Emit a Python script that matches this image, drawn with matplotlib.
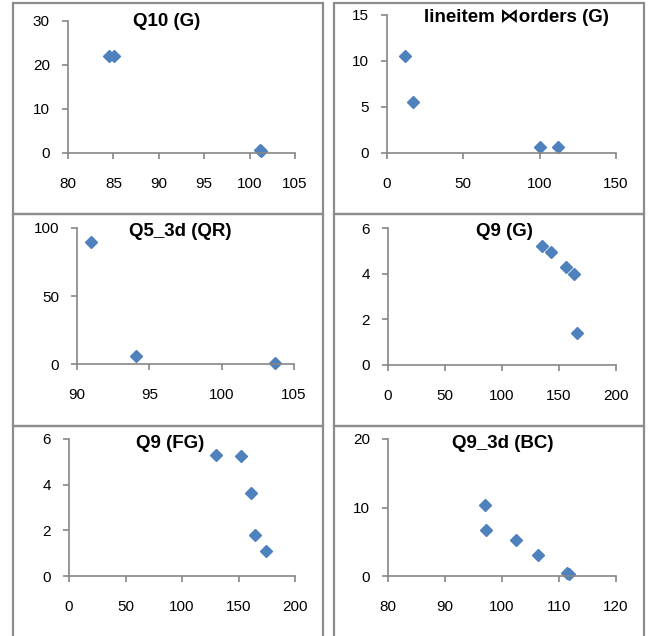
import matplotlib
matplotlib.use('Agg')
import matplotlib.pyplot as plt
from matplotlib.patches import Rectangle

plt.rcParams['font.family'] = ['Liberation Sans', 'DejaVu Sans']

# %% Data

titles = ['Q10 (G)', 'lineitem \u22c8orders (G)', 'Q5_3d (QR)', 'Q9 (G)', 'Q9 (FG)', 'Q9_3d (BC)']

q10_x = [84.5, 85.1, 101.1, 101.3]
q10_y = [22.0, 22.0, 0.6, 0.5]

lo_x = [12, 17, 100, 112]
lo_y = [10.5, 5.5, 0.7, 0.6]

q5_x = [91.0, 94.1, 103.7]
q5_y = [90.0, 6.0, 0.5]

q9g_x = [135, 143, 156, 163, 166]
q9g_y = [5.2, 4.95, 4.3, 4.0, 1.4]

q9fg_x = [130, 152, 161, 165, 174]
q9fg_y = [5.3, 5.25, 3.65, 1.8, 1.1]

q9bc_x = [97.0, 97.2, 102.5, 106.4, 111.4, 111.7]
q9bc_y = [10.3, 6.7, 5.2, 3.0, 0.5, 0.3]

series = [(q10_x, q10_y), (lo_x, lo_y), (q5_x, q5_y),
          (q9g_x, q9g_y), (q9fg_x, q9fg_y), (q9bc_x, q9bc_y)]

xlims = [(80, 105), (0, 150), (90, 105), (0, 200), (0, 200), (80, 120)]
ylims = [(0, 30), (0, 15), (0, 100), (0, 6), (0, 6), (0, 20)]
xsteps = [5, 50, 5, 50, 50, 10]
ysteps = [10, 5, 50, 2, 2, 10]

# %% Layout (pixel boxes: left, right, top, bottom) and title centres

W, H = 651, 636
axes_px = [(68, 295, 21, 153), (387, 616, 15, 153),
           (77, 294, 228, 364), (388, 616, 228, 365),
           (69, 295, 439, 576), (388, 616, 439, 576)]
title_px = [(167, 22), (516, 17), (180, 231), (504, 231), (170, 443), (503, 443)]
frame_cols = [(13, 323), (334, 644)]
frame_rows = [(3, 214), (214, 426), (426, 645)]

fig = plt.figure(figsize=(W / 100, H / 100), dpi=100, facecolor='w')

axis_grey = '#868686'
for r, (top, bot) in enumerate(frame_rows):
    for c, (lft, rgt) in enumerate(frame_cols):
        fig.patches.append(Rectangle((lft / W, 1 - bot / H), (rgt - lft) / W, (bot - top) / H,
                                     transform=fig.transFigure, fill=False,
                                     edgecolor='#8c8c8c', linewidth=1.6))

for i, (xs, ys) in enumerate(series):
    l, r, t, b = axes_px[i]
    ax = fig.add_axes([l / W, 1 - b / H, (r - l) / W, (b - t) / H])
    ax.set_facecolor('none')
    ax.plot(xs, ys, linestyle='none', marker='D', markersize=6.5,
            color='#4F81BD', markeredgecolor='#4F81BD', clip_on=False)
    ax.set_xlim(*xlims[i])
    ax.set_ylim(*ylims[i])
    x0, x1 = xlims[i]
    y0, y1 = ylims[i]
    ax.set_xticks(range(x0, x1 + 1, xsteps[i]))
    ax.set_yticks(range(y0, y1 + 1, ysteps[i]))
    for s in ['top', 'right']:
        ax.spines[s].set_visible(False)
    for s in ['left', 'bottom']:
        ax.spines[s].set_color(axis_grey)
        ax.spines[s].set_linewidth(1.2)
    ax.tick_params(axis='x', direction='out', length=4, width=1.2, color=axis_grey,
                   labelsize=11, pad=13)
    ax.tick_params(axis='y', direction='out', length=4, width=1.2, color=axis_grey,
                   labelsize=11, pad=9)
    tx, ty = title_px[i]
    fig.text(tx / W, 1 - ty / H, titles[i], ha='center', va='center',
             fontsize=13.5, fontweight='bold')

plt.savefig('out.png', dpi=100)
